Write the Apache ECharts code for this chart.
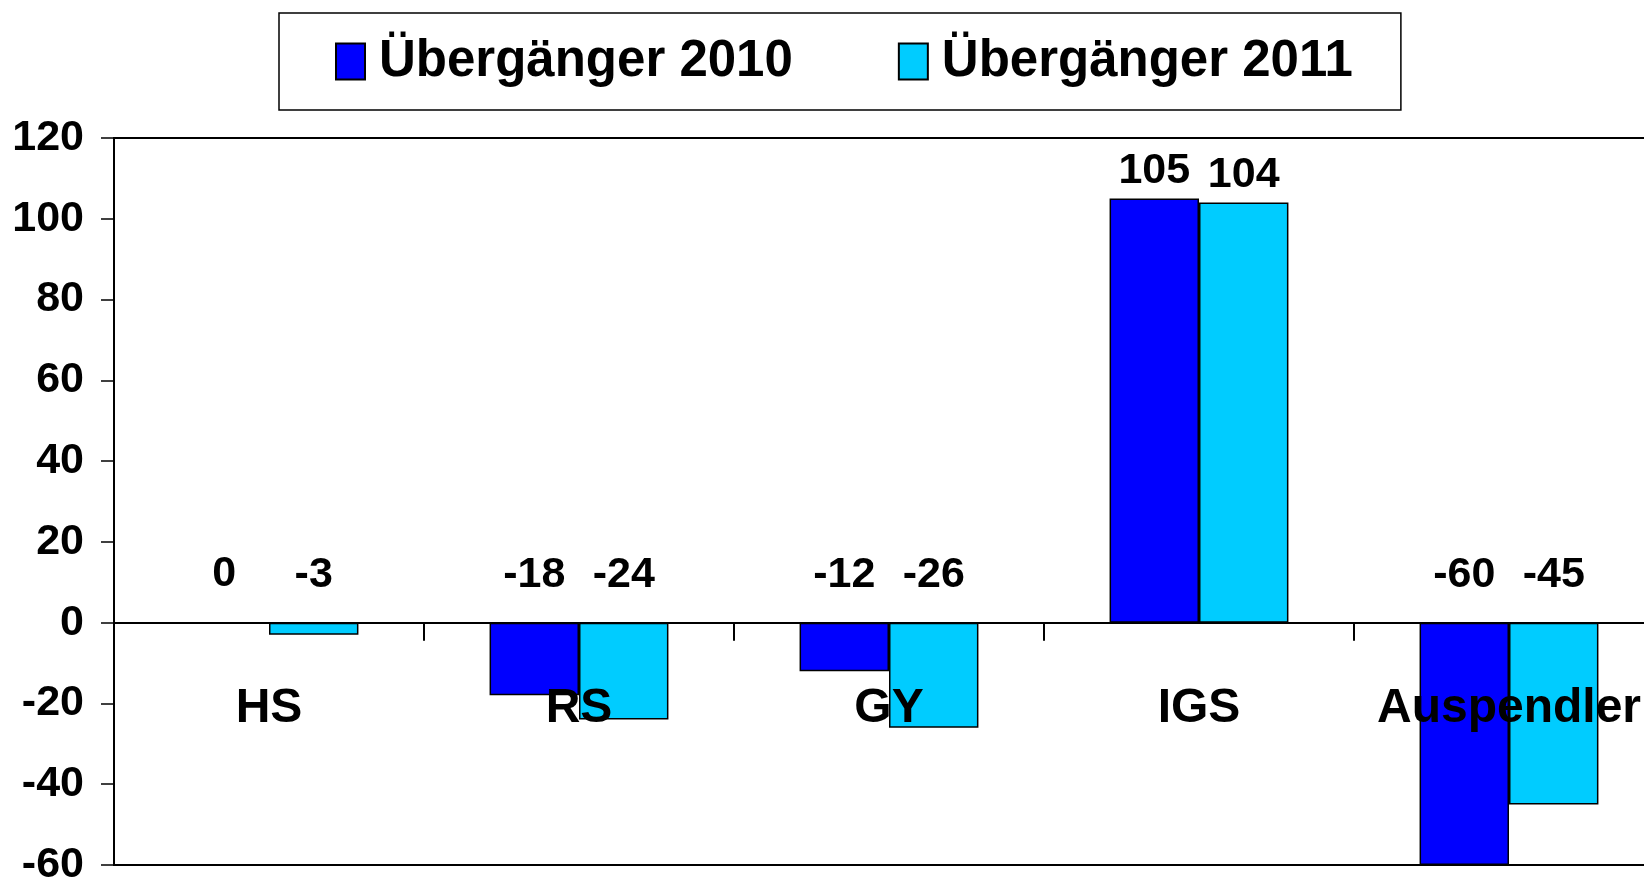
<!DOCTYPE html>
<html>
<head>
<meta charset="utf-8">
<title>Übergänger</title>
<script src="https://cdn.jsdelivr.net/npm/echarts@6/dist/echarts.min.js"></script>
<style>
  html, body { margin: 0; padding: 0; background: #fff; }
  #main { width: 1644px; height: 882px; }
</style>
</head>
<body>
<div id="main"></div>
<script>
// Daten
const categories = ['HS', 'RS', 'GY', 'IGS', 'Auspendler']
const werte2010 = [0, -18, -12, 105, -60]
const werte2011 = [-3, -24, -26, 104, -45]
const yTicks = { min: -60, max: 120, step: 20 }

const fontFam = '"Liberation Sans", Arial, sans-serif'
const gridTop = 138
const gridBottom = 17

// label sits above the bar top for positives, above the zero line otherwise
function toItems (arr) {
  return arr.map(v => ({ value: v, label: { distance: v <= 0 ? 26 : 6 } }))
}

function initChart () {
  const dom = document.getElementById('main')
  const chart = echarts.init(dom, null, { renderer: 'canvas' })
  // category axis is drawn on the zero line: shift it up from the grid bottom
  const plotHeight = dom.offsetHeight - gridTop - gridBottom
  const zeroOffset = -plotHeight * (0 - yTicks.min) / (yTicks.max - yTicks.min)

  const barLabel = {
    show: true,
    position: 'top',
    color: '#000',
    fontFamily: fontFam,
    fontWeight: 'bold',
    fontSize: 43
  }
  const option = {
    animation: false,
    backgroundColor: '#fff',
    legend: {
      left: 279,
      top: 13,
      padding: [23, 48, 23, 56],
      icon: 'rect',
      itemWidth: 29,
      itemHeight: 36,
      itemGap: 105,
      borderColor: '#000',
      borderWidth: 1.5,
      backgroundColor: '#fff',
      textStyle: {
        fontFamily: fontFam,
        fontWeight: 'bold',
        fontSize: 51,
        color: '#000',
        padding: [0, 0, 0, 9]
      },
      data: ['Übergänger 2010', 'Übergänger 2011']
    },
    grid: {
      left: 114,
      top: gridTop,
      right: -20,
      bottom: gridBottom,
      outerBoundsMode: 'none',
      show: true,
      borderColor: '#000',
      borderWidth: 2,
      containLabel: false
    },
    xAxis: {
      type: 'category',
      data: categories,
      position: 'bottom',
      offset: zeroOffset,
      z: 10,
      axisLine: { onZero: false, lineStyle: { color: '#000', width: 2 } },
      axisTick: { show: true, length: 18, lineStyle: { color: '#000', width: 2 } },
      axisLabel: {
        interval: 0,
        hideOverlap: false,
        margin: 62,
        color: '#000',
        fontFamily: fontFam,
        fontWeight: 'bold',
        fontSize: 48
      }
    },
    yAxis: {
      type: 'value',
      min: yTicks.min,
      max: yTicks.max,
      interval: yTicks.step,
      splitLine: { show: false },
      axisLine: { show: true, lineStyle: { color: '#000', width: 2 } },
      axisTick: { show: true, length: 13, lineStyle: { color: '#000', width: 1.5 } },
      axisLabel: {
        margin: 30,
        color: '#000',
        fontFamily: fontFam,
        fontWeight: 'bold',
        fontSize: 43
      }
    },
    series: [
      {
        name: 'Übergänger 2010',
        type: 'bar',
        barGap: 0,
        barCategoryGap: '42.3%',
        itemStyle: { color: '#0000ff', borderColor: '#000', borderWidth: 1.5 },
        label: barLabel,
        data: toItems(werte2010)
      },
      {
        name: 'Übergänger 2011',
        type: 'bar',
        barGap: 0,
        barCategoryGap: '42.3%',
        itemStyle: { color: '#00ccff', borderColor: '#000', borderWidth: 1.5 },
        label: barLabel,
        data: toItems(werte2011)
      }
    ]
  }
  chart.setOption(option)
}

initChart()
</script>
</body>
</html>
